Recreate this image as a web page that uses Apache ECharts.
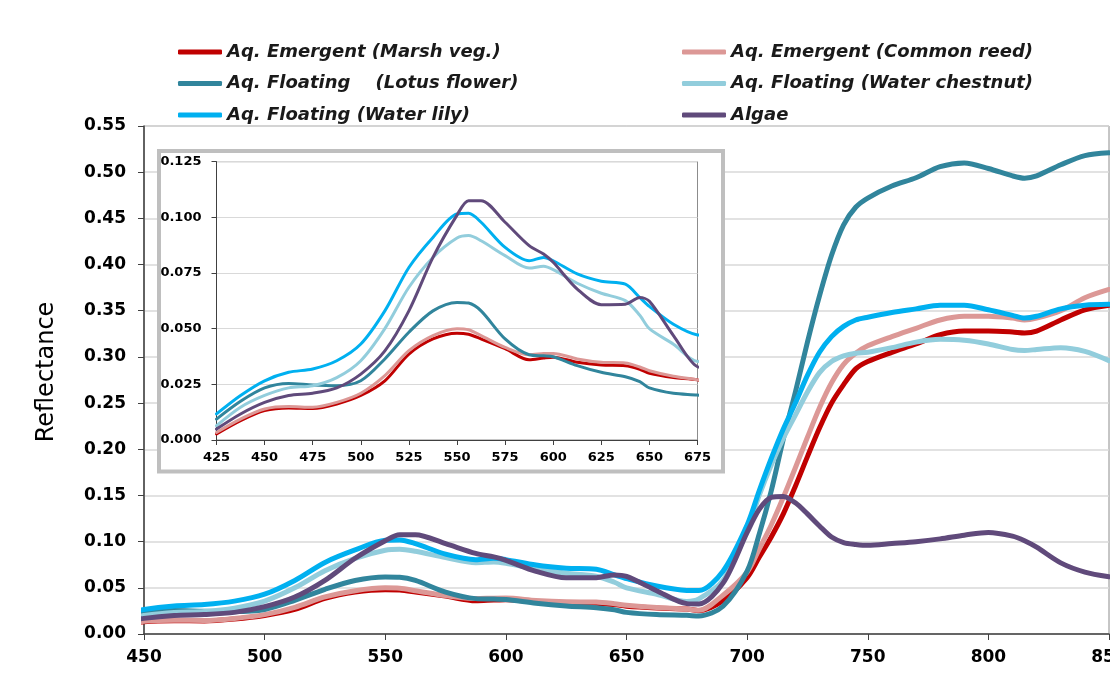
<!DOCTYPE html>
<html>
<head>
<meta charset="utf-8">
<script src="https://cdn.jsdelivr.net/npm/echarts@6/dist/echarts.min.js"></script>
<style>
  html, body { margin: 0; padding: 0; background: #fff; }
  #chart { width: 1110px; height: 679px; }
</style>
</head>
<body>
<div id="chart"></div>
<script>
'use strict';
/* reflectance spectra of aquatic vegetation, main plot + 425-675 nm inset */

var wavelengths = [425, 437.5, 450, 462.5, 475, 487.5, 500, 512.5, 525, 537.5, 550, 556, 562.5, 575, 587.5, 595, 600, 612.5, 625, 637.5, 645, 650, 662.5, 675, 680, 690, 700, 705, 710, 715, 720, 725, 730, 735, 740, 745, 750, 760, 770, 780, 790, 800, 810, 815, 820, 830, 840, 850];

var marshVeg = [0.0027, 0.0087, 0.0132, 0.0144, 0.0142, 0.0162, 0.020, 0.0266, 0.0386, 0.0454, 0.048, 0.0475, 0.0454, 0.041, 0.036, 0.0368, 0.0372, 0.0349, 0.0337, 0.0334, 0.0318, 0.030, 0.0281, 0.027, 0.0253, 0.036, 0.061, 0.083, 0.105, 0.13, 0.16, 0.192, 0.223, 0.25, 0.27, 0.287, 0.295, 0.305, 0.314, 0.324, 0.328, 0.328, 0.327, 0.326, 0.328, 0.34, 0.351, 0.356];
var commonReed = [0.0034, 0.0094, 0.0139, 0.015, 0.0147, 0.0169, 0.021, 0.0289, 0.0401, 0.0469, 0.050, 0.0495, 0.0469, 0.0416, 0.0383, 0.0388, 0.0389, 0.0364, 0.0349, 0.0346, 0.0328, 0.0311, 0.0286, 0.027, 0.0256, 0.042, 0.067, 0.092, 0.118, 0.148, 0.18, 0.213, 0.245, 0.272, 0.292, 0.304, 0.312, 0.322, 0.331, 0.34, 0.344, 0.344, 0.342, 0.340, 0.342, 0.35, 0.364, 0.373];
var lotusFlower = [0.0094, 0.0174, 0.0234, 0.0254, 0.0247, 0.0244, 0.0266, 0.0364, 0.0484, 0.058, 0.0618, 0.0615, 0.058, 0.0454, 0.0383, 0.0378, 0.0374, 0.0334, 0.0304, 0.0284, 0.0262, 0.0234, 0.021, 0.0202, 0.0195, 0.030, 0.068, 0.108, 0.155, 0.211, 0.262, 0.316, 0.366, 0.41, 0.443, 0.462, 0.472, 0.485, 0.494, 0.506, 0.510, 0.504, 0.496, 0.4935, 0.496, 0.508, 0.518, 0.521];
var waterChestnut = [0.0064, 0.0147, 0.020, 0.0234, 0.0244, 0.028, 0.0356, 0.050, 0.0686, 0.082, 0.0907, 0.0918, 0.0895, 0.0828, 0.0772, 0.078, 0.0765, 0.0704, 0.0659, 0.0626, 0.056, 0.050, 0.043, 0.0353, 0.038, 0.058, 0.112, 0.15, 0.183, 0.212, 0.237, 0.262, 0.283, 0.295, 0.301, 0.304, 0.305, 0.31, 0.316, 0.319, 0.318, 0.314, 0.308, 0.307, 0.308, 0.31, 0.306, 0.296];
var waterLily = [0.0117, 0.020, 0.0266, 0.0304, 0.0319, 0.0356, 0.0431, 0.058, 0.0775, 0.091, 0.1015, 0.1018, 0.0978, 0.0865, 0.0805, 0.082, 0.0805, 0.0746, 0.0713, 0.070, 0.064, 0.060, 0.052, 0.0472, 0.047, 0.068, 0.118, 0.155, 0.19, 0.222, 0.25, 0.28, 0.305, 0.322, 0.333, 0.34, 0.343, 0.348, 0.352, 0.356, 0.356, 0.351, 0.345, 0.342, 0.344, 0.352, 0.356, 0.357];
var algae = [0.0049, 0.0117, 0.0169, 0.020, 0.021, 0.0234, 0.0296, 0.040, 0.058, 0.082, 0.101, 0.1075, 0.1075, 0.0978, 0.0873, 0.0835, 0.0798, 0.0678, 0.0608, 0.061, 0.064, 0.0623, 0.0469, 0.0329, 0.0325, 0.055, 0.110, 0.135, 0.148, 0.149, 0.142, 0.130, 0.117, 0.105, 0.099, 0.097, 0.096, 0.098, 0.100, 0.103, 0.107, 0.110, 0.106, 0.101, 0.094, 0.077, 0.067, 0.062];

var seriesNames = ['Aq. Emergent (Marsh veg.)', 'Aq. Emergent (Common reed)', 'Aq. Floating    (Lotus flower)', 'Aq. Floating (Water chestnut)', 'Aq. Floating (Water lily)', 'Algae'];
var seriesValues = [marshVeg, commonReed, lotusFlower, waterChestnut, waterLily, algae];
var seriesColors = ['#c00000', '#dc9896', '#31859c', '#92cddc', '#00b0f0', '#604a7b'];

var chart = echarts.init(document.getElementById('chart'));

function pairs(values) {
  var out = [];
  for (var i = 0; i < wavelengths.length; i++) {
    out.push([wavelengths[i], values[i]]);
  }
  return out;
}

var series = [];
// main plot
for (var i = 0; i < seriesNames.length; i++) {
  series.push({
    name: seriesNames[i],
    type: 'line',
    xAxisIndex: 0,
    yAxisIndex: 0,
    data: pairs(seriesValues[i]),
    smooth: 0.3,
    showSymbol: false,
    z: 2,
    lineStyle: { color: seriesColors[i], width: 5, cap: 'round', join: 'round' },
    itemStyle: { color: seriesColors[i] }
  });
}
// inset
for (var i = 0; i < seriesNames.length; i++) {
  series.push({
    name: seriesNames[i],
    type: 'line',
    xAxisIndex: 1,
    yAxisIndex: 1,
    data: pairs(seriesValues[i]),
    smooth: 0.3,
    showSymbol: false,
    z: 6,
    lineStyle: { color: seriesColors[i], width: 3, cap: 'round', join: 'round' },
    itemStyle: { color: seriesColors[i] }
  });
}

var legendText = {
  fontFamily: 'DejaVu Sans',
  fontWeight: 'bold',
  fontStyle: 'italic',
  fontSize: 18,
  lineHeight: 20,
  color: '#1a1a1a'
};

var option = {
  animation: false,
  backgroundColor: '#fff',
  legend: [{
    data: [seriesNames[0], seriesNames[2], seriesNames[4]],
    orient: 'vertical',
    left: 173,
    top: 37,
    itemGap: 11.5,
    itemWidth: 44,
    itemHeight: 5,
    icon: 'roundRect',
    textStyle: legendText
  }, {
    data: [seriesNames[1], seriesNames[3], seriesNames[5]],
    orient: 'vertical',
    left: 677,
    top: 37,
    itemGap: 11.5,
    itemWidth: 44,
    itemHeight: 5,
    icon: 'roundRect',
    textStyle: legendText
  }],
  grid: [{
    left: 144,
    right: 1,
    top: 126,
    bottom: 45,
    outerBoundsMode: 'none',
    containLabel: false,
    show: true,
    borderColor: '#8c8c8c',
    borderWidth: 1
  }, {
    left: 216.5,
    right: 412.5,
    top: 161.7,
    bottom: 239,
    outerBoundsMode: 'none',
    containLabel: false,
    show: true,
    borderColor: '#8c8c8c',
    borderWidth: 1,
    z: 4
  }],
  xAxis: [{
    type: 'value',
    gridIndex: 0,
    min: 450,
    max: 850,
    interval: 50,
    axisLine: { lineStyle: { color: '#404040', width: 1.5 } },
    axisTick: { show: true, length: 6, inside: false, lineStyle: { color: '#404040' } },
    axisLabel: { margin: 15, color: '#000', fontFamily: 'DejaVu Sans', fontWeight: 'bold', fontSize: 17 },
    splitLine: { show: false }
  }, {
    type: 'value',
    gridIndex: 1,
    min: 425,
    max: 675,
    interval: 25,
    z: 4,
    axisLine: { lineStyle: { color: '#404040' } },
    axisTick: { show: true, length: 5, inside: false, lineStyle: { color: '#404040' } },
    axisLabel: { margin: 11, color: '#000', fontFamily: 'DejaVu Sans', fontWeight: 'bold', fontSize: 13 },
    splitLine: { show: false }
  }],
  yAxis: [{
    type: 'value',
    gridIndex: 0,
    min: 0,
    max: 0.55,
    interval: 0.05,
    axisLine: { show: true, lineStyle: { color: '#404040', width: 1.5 } },
    axisTick: { show: true, length: 6, inside: false, lineStyle: { color: '#404040' } },
    axisLabel: {
      margin: 18, color: '#000', fontFamily: 'DejaVu Sans', fontWeight: 'bold', fontSize: 17,
      formatter: function(v) { return v.toFixed(2); }
    },
    splitLine: { show: true, lineStyle: { color: '#d9d9d9', width: 1.5 } }
  }, {
    type: 'value',
    gridIndex: 1,
    min: 0,
    max: 0.125,
    interval: 0.025,
    z: 4,
    axisLine: { show: true, lineStyle: { color: '#404040' } },
    axisTick: { show: true, length: 5, inside: false, lineStyle: { color: '#404040' } },
    axisLabel: {
      margin: 15, color: '#000', fontFamily: 'DejaVu Sans', fontWeight: 'bold', fontSize: 13,
      formatter: function(v) { return v.toFixed(3); }
    },
    splitLine: { show: true, lineStyle: { color: '#d9d9d9', width: 1.2 } }
  }],
  graphic: [{
    type: 'rect',
    z: 3,
    shape: { x: 159, y: 151, width: 564, height: 320.5 },
    style: { fill: '#fff', stroke: '#bfbfbf', lineWidth: 4 }
  }, {
    type: 'text',
    z: 3,
    x: 47,
    y: 372,
    rotation: Math.PI / 2,
    style: {
      text: 'Reflectance',
      fontFamily: 'DejaVu Sans',
      fontSize: 24,
      fill: '#000',
      textAlign: 'center',
      textVerticalAlign: 'middle'
    }
  }],
  series: series
};

chart.setOption(option);
</script>
</body>
</html>
